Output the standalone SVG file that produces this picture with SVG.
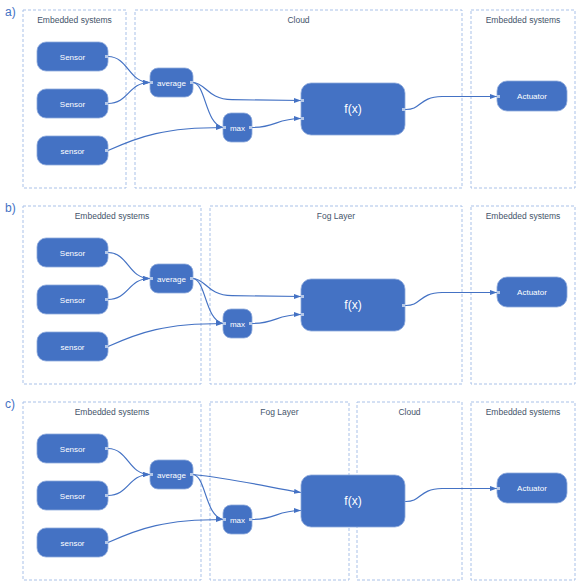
<svg xmlns="http://www.w3.org/2000/svg" width="582" height="585" viewBox="0 0 582 585">
<style>
.bg{fill:#ffffff}
.zone{fill:none;stroke:#a9c1e8;stroke-width:1;stroke-dasharray:3,2}
.zl{font-family:"Liberation Sans",Arial,sans-serif;font-size:8.5px;fill:#44546a;text-anchor:middle}
.pl{font-family:"Liberation Sans",Arial,sans-serif;font-size:12px;fill:#4472c4}
.node rect.b{fill:#4472c4;stroke:#8eaadc;stroke-width:0.8}
.node text{font-family:"Liberation Sans",Arial,sans-serif;font-size:8px;fill:#ffffff;text-anchor:middle}
.node text.big{font-size:12px}
.port{fill:#b4c7e7}
.conn path{fill:none;stroke:#4472c4;stroke-width:1.2;marker-end:url(#arr)}
</style>
<defs>
<marker id="arr" markerUnits="userSpaceOnUse" markerWidth="7" markerHeight="6" refX="7" refY="3" orient="auto">
<path d="M0,0.5 L7,3 L0,5.5 z" fill="#4472c4"/>
</marker>
</defs>
<rect class="bg" x="0" y="0" width="582" height="585"/>

<!-- Panel a -->
<g id="panel-a">
<text class="pl" x="5" y="16">a)</text>
<g id="a-zones">
<rect class="zone" x="23" y="10" width="103" height="178"/>
<rect class="zone" x="135" y="10" width="327" height="178"/>
<rect class="zone" x="471" y="10" width="104" height="178"/>
<text class="zl" x="74.5" y="23">Embedded systems</text>
<text class="zl" x="298.5" y="23">Cloud</text>
<text class="zl" x="523" y="23">Embedded systems</text>
</g>
<g id="a-connectors" class="conn">
<path d="M108,56.5 C129,57 128,82.5 150,82.5"/>
<path d="M108,103.5 C129,103.5 128,82.5 150,82.5"/>
<path d="M108,150.5 C140,136 165,127.5 223,127.5"/>
<path d="M193,82.5 C206,83 207,99 232,99.7 L301,100.5"/>
<path d="M193,82.5 C206,84 205,124 223,127.5"/>
<path d="M252,127.5 C276,127.5 276,118.5 301,118.5"/>
<path d="M405,109.5 C422,110 418,97 442,96.5 L497,96.5"/>
</g>
<g id="a-sensor1" class="node"><rect class="b" x="37" y="42" width="71" height="29" rx="9"/><text x="72.5" y="59.5">Sensor</text><rect class="port" x="105" y="55" width="3" height="3"/></g>
<g id="a-sensor2" class="node"><rect class="b" x="37" y="89" width="71" height="29" rx="9"/><text x="72.5" y="106.5">Sensor</text><rect class="port" x="105" y="102" width="3" height="3"/></g>
<g id="a-sensor3" class="node"><rect class="b" x="37" y="136" width="71" height="29" rx="9"/><text x="72.5" y="153.5">sensor</text><rect class="port" x="105" y="149" width="3" height="3"/></g>
<g id="a-average" class="node"><rect class="b" x="150" y="68" width="43" height="29" rx="8"/><text x="171.5" y="85.5">average</text><rect class="port" x="150" y="81" width="3" height="3"/><rect class="port" x="190" y="81" width="3" height="3"/></g>
<g id="a-max" class="node"><rect class="b" x="223" y="113" width="29" height="29" rx="8"/><text x="237.5" y="130.5">max</text><rect class="port" x="223" y="126" width="3" height="3"/><rect class="port" x="249" y="126" width="3" height="3"/></g>
<g id="a-fx" class="node"><rect class="b" x="301" y="83" width="104" height="52" rx="10"/><text class="big" x="353" y="113">f(x)</text><rect class="port" x="301" y="99" width="3" height="3"/><rect class="port" x="301" y="117" width="3" height="3"/><rect class="port" x="402" y="108" width="3" height="3"/></g>
<g id="a-actuator" class="node"><rect class="b" x="497" y="81" width="70" height="30" rx="10"/><text x="532" y="99">Actuator</text><rect class="port" x="497" y="95" width="3" height="3"/></g>
</g>

<!-- Panel b -->
<text class="pl" x="5" y="212">b)</text>
<g id="panel-b" transform="translate(0,196)">
<g id="b-zones">
<rect class="zone" x="23" y="10" width="178" height="178"/>
<rect class="zone" x="210" y="10" width="252" height="178"/>
<rect class="zone" x="471" y="10" width="104" height="178"/>
<text class="zl" x="112" y="23">Embedded systems</text>
<text class="zl" x="336" y="23">Fog Layer</text>
<text class="zl" x="523" y="23">Embedded systems</text>
</g>
<g id="b-connectors" class="conn">
<path d="M108,56.5 C129,57 128,82.5 150,82.5"/>
<path d="M108,103.5 C129,103.5 128,82.5 150,82.5"/>
<path d="M108,150.5 C140,136 165,127.5 223,127.5"/>
<path d="M193,82.5 C206,83 207,99 232,99.7 L301,100.5"/>
<path d="M193,82.5 C206,84 205,124 223,127.5"/>
<path d="M252,127.5 C276,127.5 276,118.5 301,118.5"/>
<path d="M405,109.5 C422,110 418,97 442,96.5 L497,96.5"/>
</g>
<g id="b-sensor1" class="node"><rect class="b" x="37" y="42" width="71" height="29" rx="9"/><text x="72.5" y="59.5">Sensor</text><rect class="port" x="105" y="55" width="3" height="3"/></g>
<g id="b-sensor2" class="node"><rect class="b" x="37" y="89" width="71" height="29" rx="9"/><text x="72.5" y="106.5">Sensor</text><rect class="port" x="105" y="102" width="3" height="3"/></g>
<g id="b-sensor3" class="node"><rect class="b" x="37" y="136" width="71" height="29" rx="9"/><text x="72.5" y="153.5">sensor</text><rect class="port" x="105" y="149" width="3" height="3"/></g>
<g id="b-average" class="node"><rect class="b" x="150" y="68" width="43" height="29" rx="8"/><text x="171.5" y="85.5">average</text><rect class="port" x="150" y="81" width="3" height="3"/><rect class="port" x="190" y="81" width="3" height="3"/></g>
<g id="b-max" class="node"><rect class="b" x="223" y="113" width="29" height="29" rx="8"/><text x="237.5" y="130.5">max</text><rect class="port" x="223" y="126" width="3" height="3"/><rect class="port" x="249" y="126" width="3" height="3"/></g>
<g id="b-fx" class="node"><rect class="b" x="301" y="83" width="104" height="52" rx="10"/><text class="big" x="353" y="113">f(x)</text><rect class="port" x="301" y="99" width="3" height="3"/><rect class="port" x="301" y="117" width="3" height="3"/><rect class="port" x="402" y="108" width="3" height="3"/></g>
<g id="b-actuator" class="node"><rect class="b" x="497" y="81" width="70" height="30" rx="10"/><text x="532" y="99">Actuator</text><rect class="port" x="497" y="95" width="3" height="3"/></g>
</g>

<!-- Panel c -->
<text class="pl" x="5" y="408">c)</text>
<g id="panel-c" transform="translate(0,392)">
<g id="c-zones">
<rect class="zone" x="23" y="10" width="178" height="178"/>
<rect class="zone" x="210" y="10" width="139" height="178"/>
<rect class="zone" x="357" y="10" width="105" height="178"/>
<rect class="zone" x="471" y="10" width="104" height="178"/>
<text class="zl" x="112" y="23">Embedded systems</text>
<text class="zl" x="279.5" y="23">Fog Layer</text>
<text class="zl" x="409.5" y="23">Cloud</text>
<text class="zl" x="523" y="23">Embedded systems</text>
</g>
<g id="c-connectors" class="conn">
<path d="M108,56.5 C129,57 128,82.5 150,82.5"/>
<path d="M108,103.5 C129,103.5 128,82.5 150,82.5"/>
<path d="M108,150.5 C140,136 165,127.5 223,127.5"/>
<path d="M193,82.5 C235,87 268,95 301,100.5"/>
<path d="M193,82.5 C206,84 205,124 223,127.5"/>
<path d="M252,127.5 C276,127.5 276,118.5 301,118.5"/>
<path d="M405,109.5 C422,110 418,97 442,96.5 L497,96.5"/>
</g>
<g id="c-sensor1" class="node"><rect class="b" x="37" y="42" width="71" height="29" rx="9"/><text x="72.5" y="59.5">Sensor</text><rect class="port" x="105" y="55" width="3" height="3"/></g>
<g id="c-sensor2" class="node"><rect class="b" x="37" y="89" width="71" height="29" rx="9"/><text x="72.5" y="106.5">Sensor</text><rect class="port" x="105" y="102" width="3" height="3"/></g>
<g id="c-sensor3" class="node"><rect class="b" x="37" y="136" width="71" height="29" rx="9"/><text x="72.5" y="153.5">sensor</text><rect class="port" x="105" y="149" width="3" height="3"/></g>
<g id="c-average" class="node"><rect class="b" x="150" y="68" width="43" height="29" rx="8"/><text x="171.5" y="85.5">average</text><rect class="port" x="150" y="81" width="3" height="3"/><rect class="port" x="190" y="81" width="3" height="3"/></g>
<g id="c-max" class="node"><rect class="b" x="223" y="113" width="29" height="29" rx="8"/><text x="237.5" y="130.5">max</text><rect class="port" x="223" y="126" width="3" height="3"/><rect class="port" x="249" y="126" width="3" height="3"/></g>
<g id="c-fx" class="node"><rect class="b" x="301" y="83" width="104" height="52" rx="10"/><text class="big" x="353" y="113">f(x)</text></g>
<g id="c-actuator" class="node"><rect class="b" x="497" y="81" width="70" height="30" rx="10"/><text x="532" y="99">Actuator</text><rect class="port" x="497" y="95" width="3" height="3"/></g>
</g>
</svg>
